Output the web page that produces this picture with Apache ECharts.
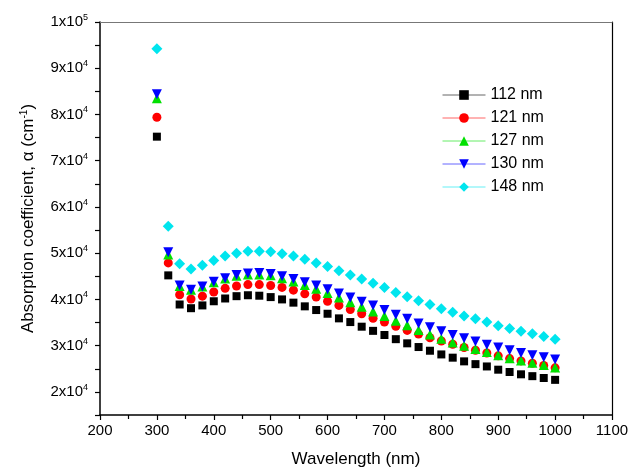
<!DOCTYPE html>
<html>
<head>
<meta charset="utf-8">
<script src="https://cdn.jsdelivr.net/npm/echarts@6/dist/echarts.min.js"></script>
<style>
    html, body { margin: 0; padding: 0; background: #fff; }
    #chart { width: 644px; height: 475px; }
</style>
</head>
<body>
<div id="chart"></div>
<script>
// wavelength (nm)
var wavelength = [300, 320, 340, 360, 380, 400, 420, 440, 460, 480, 500, 520, 540, 560, 580, 600, 620, 640,
    660, 680, 700, 720, 740, 760, 780, 800, 820, 840, 860, 880, 900, 920, 940, 960, 980, 1000];

// absorption coefficient (cm-1), one list per thickness
var t112 = [75200, 45200, 38900, 38100, 38700, 39600, 40200, 40700, 40900, 40800, 40500, 40000, 39300, 38500,
    37700, 36900, 35900, 35100, 34100, 33200, 32300, 31400, 30500, 29700, 28900, 28100, 27400, 26600, 26000,
    25500, 24800, 24300, 23800, 23400, 23000, 22600];
var t121 = [79400, 47900, 41000, 40100, 40700, 41600, 42400, 42900, 43200, 43200, 43000, 42600, 42000, 41200,
    40500, 39600, 38700, 37800, 36900, 35900, 35100, 34200, 33300, 32500, 31700, 31000, 30300, 29600, 29000,
    28400, 27800, 27200, 26700, 26200, 25700, 25200];
var t127 = [83500, 49700, 42900, 42100, 42800, 43700, 44500, 45100, 45400, 45400, 45200, 44600, 43900, 43100,
    42300, 41400, 40400, 39400, 38400, 37400, 36400, 35400, 34400, 33400, 32400, 31500, 30700, 30000, 29300,
    28600, 27900, 27300, 26800, 26300, 25800, 25300];
var t130 = [84400, 50200, 43000, 42100, 42800, 43800, 44600, 45300, 45600, 45700, 45500, 45000, 44400, 43700,
    43000, 42200, 41300, 40400, 39500, 38700, 37700, 36700, 35800, 34800, 34000, 33100, 32300, 31600, 30900,
    30200, 29600, 29000, 28400, 27900, 27500, 27000];
var t148 = [94200, 55800, 47700, 46600, 47400, 48400, 49400, 50000, 50400, 50400, 50300, 49900, 49400, 48700,
    47900, 47100, 46200, 45300, 44400, 43500, 42600, 41500, 40600, 39700, 38900, 38000, 37200, 36400, 35800,
    35100, 34300, 33700, 33100, 32600, 32000, 31400];

var names = ['112 nm', '121 nm', '127 nm', '130 nm', '148 nm'];

var FONT = 'Liberation Sans';

function pairs(ys) {
    var out = [];
    for (var i = 0; i < wavelength.length; i++) {
        out.push([wavelength[i], ys[i]]);
    }
    return out;
}

function mkSeries(name, ys, color, symbol, size, rotate) {
    return {
        name: name,
        type: 'line',
        data: pairs(ys),
        symbol: symbol,
        symbolSize: size,
        symbolRotate: rotate || 0,
        showAllSymbol: true,
        itemStyle: { color: color },
        lineStyle: { color: color, width: 1, opacity: 0 },
        emphasis: { disabled: true },
        z: 3
    };
}

var chart = echarts.init(document.getElementById('chart'));

var option = {
    animation: false,
    backgroundColor: '#fff',
    textStyle: { fontFamily: FONT },
    grid: { left: 100, top: 22, right: 32, bottom: 60 },
    legend: {
        orient: 'vertical',
        left: 437,
        top: 82,
        itemWidth: 43,
        itemHeight: 12,
        itemGap: 7,
        data: names,
        lineStyle: { width: 1, opacity: 0.6 },
        textStyle: { fontFamily: FONT, fontSize: 16, color: '#000' }
    },
    xAxis: [{
        type: 'value',
        min: 200,
        max: 1100,
        interval: 100,
        name: 'Wavelength (nm)',
        nameLocation: 'middle',
        nameGap: 36,
        nameTextStyle: { fontFamily: FONT, fontSize: 17, color: '#000' },
        axisLine: { onZero: false, lineStyle: { color: '#000', width: 1.5 } },
        axisTick: { length: 5, lineStyle: { color: '#000', width: 1.2 } },
        minorTick: { show: true, splitNumber: 2, length: 4, lineStyle: { color: '#000', width: 1.2 } },
        axisLabel: {
            fontFamily: FONT, fontSize: 15, color: '#000', margin: 8,
            formatter: function (v) { return String(v); }
        },
        splitLine: { show: false }
    }, {
        type: 'value',
        position: 'top',
        min: 200,
        max: 1100,
        axisLine: { show: true, onZero: false, lineStyle: { color: '#777', width: 1.2 } },
        axisTick: { show: false },
        axisLabel: { show: false },
        splitLine: { show: false }
    }],
    yAxis: [{
        type: 'value',
        min: 15000,
        max: 100000,
        interval: 5000,
        name: '{a|Absorption coefficient, α (cm}{s|-1}{a|)}',
        nameLocation: 'middle',
        nameGap: 62,
        nameTextStyle: {
            rich: {
                a: { fontFamily: FONT, fontSize: 17, color: '#000' },
                s: { fontFamily: FONT, fontSize: 10, color: '#000', padding: [0, 0, 9, 0] }
            }
        },
        axisLine: { onZero: false, lineStyle: { color: '#000', width: 1.5 } },
        axisTick: { length: 5, lineStyle: { color: '#000', width: 1.2 } },
        axisLabel: {
            margin: 12,
            formatter: function (v) {
                if (v % 10000 !== 0) return '';
                var e = Math.floor(Math.log10(v) + 1e-9);
                var m = Math.round(v / Math.pow(10, e));
                return '{b|' + m + 'x10}{s|' + e + '}';
            },
            rich: {
                b: { fontFamily: FONT, fontSize: 15, color: '#000' },
                s: { fontFamily: FONT, fontSize: 9, color: '#000', padding: [0, 0, 9, 0] }
            }
        },
        splitLine: { show: false }
    }, {
        type: 'value',
        position: 'right',
        min: 15000,
        max: 100000,
        axisLine: { show: true, onZero: false, lineStyle: { color: '#000', width: 1.2 } },
        axisTick: { show: false },
        axisLabel: { show: false },
        splitLine: { show: false }
    }],
    series: [
        mkSeries(names[0], t112, '#000000', 'rect', 8),
        mkSeries(names[1], t121, '#ff0000', 'circle', 9),
        mkSeries(names[2], t127, '#00e000', 'triangle', 10),
        mkSeries(names[3], t130, '#0000ff', 'triangle', 10, 180),
        mkSeries(names[4], t148, '#00e5ee', 'diamond', 11)
    ]
};

chart.setOption(option);
</script>
</body>
</html>
